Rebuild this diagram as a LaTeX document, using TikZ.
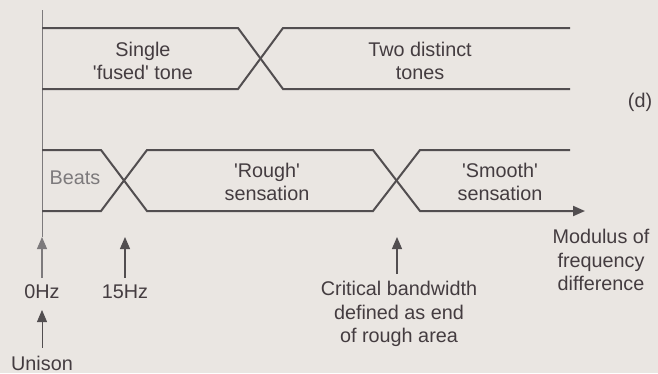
\documentclass[tikz,border=0pt]{standalone}
\usepackage{fontspec}
\setmainfont{Liberation Sans}
\usetikzlibrary{arrows.meta}
\definecolor{bg}{RGB}{234,230,226}
\definecolor{ln}{RGB}{82,78,80}
\definecolor{tx}{RGB}{68,60,64}
\definecolor{lt}{RGB}{125,122,124}
\newcommand\qq{\textquotesingle}
\begin{document}
\begin{tikzpicture}[x=1pt,y=-1pt,
  band/.style={ln, line width=2pt, line join=miter},
  lbl/.style={text=tx, font=\fontsize{19.8}{23.5}\selectfont, align=center, inner sep=0pt},
  tip/.style={-{Triangle[length=12pt,width=10pt]}},
  uparrow/.style={tip, line width=1.2pt, ln}]
\fill[bg] (0,0) rectangle (658,373);
\useasboundingbox (0,0) rectangle (658,373);

% vertical axis
\draw[lt, line width=0.8pt] (42,10) -- (42,237);

% top band
\draw[band] (42,28) -- (238,28) -- (283,89) -- (570,89);
\draw[band] (42,89) -- (238,89) -- (283,28) -- (570,28);

% bottom band
\draw[band] (42,150) -- (101,150) -- (147,211) -- (373,211) -- (420,150) -- (570,150);
\draw[band, tip] (42,211) -- (101,211) -- (147,150) -- (373,150) -- (420,211) -- (585,211);

% labels
\node[lbl] (single) at (143,61) {Single\\\qq fused\qq{} tone};
\node[lbl] (two) at (420,61) {Two distinct\\tones};
\node[lbl] (d) at (640,102) {(d)};
\node[lbl, text=lt] (beats) at (75,178) {Beats};
\node[lbl] (rough) at (267,182) {\qq Rough\qq\\sensation};
\node[lbl] (smooth) at (500,182) {\qq Smooth\qq\\sensation};
\node[lbl] (mod) at (601,260) {Modulus of\\frequency\\difference};
\node[lbl] (z0) at (42,292) {0Hz};
\node[lbl] (z15) at (125,292) {15Hz};
\node[lbl] (crit) at (399,314) {Critical bandwidth\\defined as end\\of rough area};
\node[lbl] (uni) at (42,363) {Unison};

% arrows
\coordinate (t0) at (42,237);
\coordinate (t15) at (125,237);
\coordinate (tc) at (397,237);
\coordinate (tu) at (42,310);
\draw[uparrow, lt] ([yshift=7pt]z0.north) -- (t0);
\draw[uparrow] ([yshift=7pt]z15.north) -- (t15);
\draw[uparrow] ([xshift=-2pt,yshift=7pt]crit.north) -- (tc);
\draw[uparrow, line width=0.8pt] ([yshift=8pt]uni.north) -- (tu);
\end{tikzpicture}
\end{document}
